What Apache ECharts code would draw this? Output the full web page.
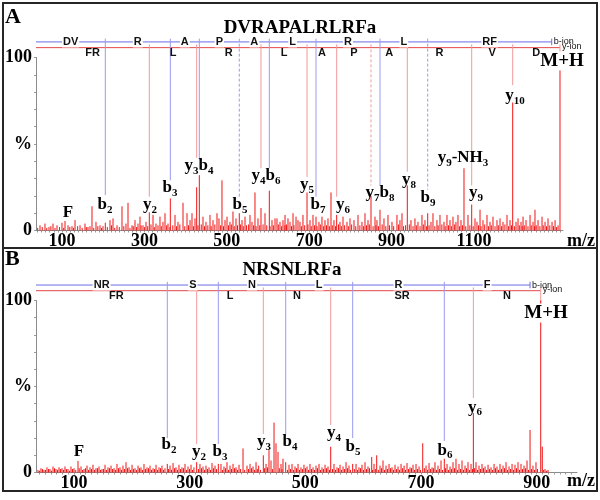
<!DOCTYPE html>
<html><head><meta charset="utf-8">
<script src="https://cdn.jsdelivr.net/npm/echarts@6/dist/echarts.min.js"></script>
<style>html,body{margin:0;padding:0;background:#fff}#c{width:600px;height:500px}</style>
</head><body><div id="c"></div>
<script>
// ---------------- Panel A : DVRAPALRLRFa ----------------
const titleA = 'DVRAPALRLRFa';
const xRangeA = [36.9, 1316];
const xTickLabelsA = [100, 300, 500, 700, 900, 1100];
const majorPeaksA = [[107.3,5.5],[172.8,14],[205.1,4.5],[245.6,14],[260.2,16],[311.9,10.5],[362.9,18.5],[393.7,16],[426.9,25],[433.3,32],[488.3,29],[515,11],[530.3,10],[568.4,22],[583,13],[603.2,23],[641.3,9],[660.7,10],[694.7,22],[716.5,8],[752.9,22],[766.7,9],[850,20],[871.8,12],[938.1,26],[987.6,10],[1075.7,36],[1094.4,15],[1114.6,12],[1193.9,74],[1248,12],[1308.7,100]];
const noiseA = [[46.6,3],[58.7,4],[68.4,2],[78.2,4],[87.9,3],[100,4.5],[114.6,3],[124.3,2.5],[131.6,6],[143.7,3],[155.8,4],[163.1,2],[182.5,5],[192.2,3],[199.5,2.5],[216.5,6],[223.8,7],[233.5,3],[255.3,4],[269.9,3],[277.2,6],[284.5,4],[289.3,8],[296.6,3],[303.9,5],[320.9,9],[328.1,4],[337.8,8],[345.1,5],[350,10],[357.3,4],[374.3,9],[381.5,5],[403.4,10],[410.7,6],[415.5,10],[422.8,7],[442.2,8],[449.5,5],[459.2,9],[466.5,6],[476.2,10],[481,7],[495.6,6],[500.5,8],[507.7,5],[522.3,7],[536.9,6],[544.2,8],[556.3,9],[561.1,5],[575.7,7],[592.7,10],[609.7,6],[617,7],[621.8,7],[629.1,5],[636.4,6],[648.5,7],[653.4,5],[668,8],[672.8,6],[677.6,5],[684.9,9],[701.9,6],[709.2,9],[723.7,5],[731,8],[738.3,6],[745.6,7],[760.1,6],[774.7,5],[782,8],[791.7,5],[799,7],[808.7,6],[818.4,9],[828.1,5],[835.4,10],[842.7,6],[859.7,8],[864.5,6],[881.5,7],[891.2,9],[900.9,5],[913,9],[920.3,6],[925.2,10],[947,6],[956.7,7],[964,5],[973.7,9],[981,6],[995.6,5],[1000.4,10],[1010.1,6],[1017.4,9],[1027.1,5],[1034.4,9],[1041.7,6],[1049,8],[1056.2,5],[1061.1,9],[1068.4,6],[1085.4,9],[1102.4,7],[1107.2,5],[1121.8,6],[1131.5,9],[1138.8,5],[1146.1,8],[1155.8,6],[1163.1,7],[1170.4,5],[1180.1,9],[1187.4,6],[1202,5],[1206.8,7],[1214.1,5],[1219,8],[1226.3,6],[1236,9],[1243.2,5],[1255.4,6],[1265.1,8],[1272.4,5],[1279.6,7],[1289.4,5],[1296.7,6],[1304,3]];
const floorA = [[41,1.5],[52,2],[63,1.5],[73,2.5],[83,1.5],[94,2],[104,1.5],[119,2],[128,1.5],[138,2.5],[149,1.5],[159,2],[168,2.5],[177,1.5],[187,2.5],[196,1.5],[210,2],[220,3],[228,1.5],[239,2],[250,2.5],[265,1.5],[273,2.5],[281,2],[292,3],[300,2],[308,2.5],[316,3.5],[324,2],[333,3],[341,2.5],[354,3],[362,2],[369,3],[378,2.5],[386,3.5],[398,2.5],[407,3],[419,2.5],[430,3],[438,3.5],[446,2.5],[454,3],[462,2.5],[471,3.5],[485,3],[492,2.5],[504,3],[511,3.5],[518,2.5],[526,3],[533,3.5],[540,2.5],[548,3],[553,3.5],[565,3],[571,2.5],[580,3],[588,3.5],[597,3],[605,2.5],[613,3],[625,3.5],[633,2.5],[641,3],[645,3.5],[657,2.5],[663,3],[681,2.5],[689,3],[697,3.5],[705,2.5],[713,3],[719,2.5],[727,3.5],[735,2.5],[742,3],[749,2.5],[756,3],[764,2.5],[771,3.5],[778,2.5],[786,3],[795,2.5],[803,3.5],[813,2.5],[823,3],[832,2.5],[839,3],[846,3.5],[855,2.5],[862,3],[868,2.5],[877,3.5],[886,2.5],[895,3],[905,2.5],[917,3.5],[929,2.5],[934,3],[943,3.5],[952,2.5],[960,3],[969,2.5],[977,3.5],[985,2.5],[991,3],[1005,2.5],[1013,3],[1022,3.5],[1030,2.5],[1038,3],[1045,2.5],[1053,3.5],[1065,2.5],[1072,3],[1080,2.5],[1090,3],[1098,2.5],[1111,3],[1117,2.5],[1126,3.5],[1135,2.5],[1142,3],[1151,2.5],[1159,3],[1167,2.5],[1175,3.5],[1184,2.5],[1191,3],[1198,2.5],[1210,3],[1217,2.5],[1222,3],[1231,2.5],[1239,3],[1247,2.5],[1251,3],[1260,2.5],[1268,3],[1276,2.5],[1284,3],[1293,2.5],[1300,2]];
const bIonsA = [205.1, 362.9, 433.3, 530.3, 603.2, 716.5, 871.8, 987.6];
const bGuideEndA = [20.5, 29, 41, 19.5, 36, 19.5, 26, 23.6];
const bDashA = [3, 7];
const bEndA = 1288.6;
const yIonsA = [311.9, 426.9, 583, 694.7, 766.7, 850, 938.1, 1094.4, 1193.9];
const yGuideEndA = [19.5, 42, 36, 31, 19.5, 26, 34, 26, 84];
const yDashA = [5];
const mhA = 1308.7;
const bResA = ['DV','R','A','P','A','L','R','L','RF'];
const yResA = ['FR','L','R','L','A','P','A','R','V','D'];
const annTextA = ['{m|F}','{m|b}{s|2}','{m|y}{s|2}','{m|b}{s|3}','{m|y}{s|3}{m|b}{s|4}','{m|b}{s|5}','{m|y}{s|4}{m|b}{s|6}','{m|y}{s|5}','{m|b}{s|7}','{m|y}{s|6}','{m|y}{s|7}{m|b}{s|8}','{m|y}{s|8}','{m|b}{s|9}','{m|y}{s|9}{m|-NH}{s|3}','{m|y}{s|9}','{m|y}{s|10}','{h|M+H}'];
const annMzA = [114.6, 204.4, 313.6, 362.1, 432.5, 532, 595, 694.6, 721.3, 782, 871.8, 942.2, 988.3, 1073.3, 1104.8, 1199.4, 1313.5];
const annYA = [10.1, 14.7, 14.7, 24.6, 37.3, 14.7, 31.5, 26.3, 14.7, 14.7, 21.7, 29.2, 18.8, 41.9, 21.7, 77.7, 98];

// ---------------- Panel B : NRSNLRFa ----------------
const titleB = 'NRSNLRFa';
const xRangeB = [34.3, 969.6];
const xTickLabelsB = [100, 300, 500, 700, 900];
const majorPeaksB = [[106.9,6.7],[261.3,5],[312.1,6],[349.5,5],[392.2,14],[427.3,10],[437.1,13],[445.8,29],[449.2,17],[452.7,12],[466,6],[543.8,15],[581.8,5],[614.7,9],[623.3,10],[702.9,17],[740.2,8],[790.4,34.6],[888.4,24.7],[906.9,100],[909.6,15]];
const noiseB = [[37.8,1.5],[42.9,2.5],[48.1,1.5],[53.3,3],[58.5,2],[63.7,3.5],[68.9,2],[74.1,3],[79.3,2.5],[84.4,3.5],[89.6,2],[94.8,3.5],[100,2.5],[112.1,3.5],[117.3,2],[122.5,4],[127.7,3],[132.8,4.5],[138,2.5],[143.2,3.5],[148.4,2],[153.6,4.5],[158.8,3],[164,4],[169.2,2.5],[174.3,5],[179.5,3],[184.7,4],[189.9,6],[195.1,3],[200.3,4.5],[205.5,2.5],[210.7,4],[215.8,3],[221,5],[226.2,3],[231.4,4],[236.6,2.5],[241.8,4.5],[247,3],[252.1,4],[257.3,2.5],[266,4],[271.2,5.5],[276.3,3],[281.5,4.5],[286.7,3],[291.9,5],[297.1,3.5],[302.3,4.5],[307.4,3],[317.8,5],[323,3.5],[328.2,4],[333.4,3],[338.6,5.5],[343.8,4],[354.1,5],[359.3,3.5],[364.5,6],[369.7,4],[374.9,5],[380.1,3],[385.3,4.5],[399.1,4],[404.3,5],[409.5,3.5],[414.7,6],[419.3,4],[432,5],[440.6,7],[457.9,5],[461.3,8],[471.7,4.5],[476.9,5],[482.1,3.5],[487.3,5],[492.4,3],[497.6,4.5],[502.8,3.5],[508,5],[513.2,3],[518.4,4],[523.6,5],[528.8,3],[534,4.5],[539.1,3.5],[549.5,5],[554.7,3],[559.9,4.5],[565.1,3.5],[570.3,6],[575.4,4],[587.6,5],[592.7,3],[597.9,4.5],[603.1,6],[608.3,3.5],[618.7,5],[629.1,4],[634.2,7],[639.4,4],[644.6,5],[649.8,3],[655,4.5],[660.2,3.5],[665.4,5],[670.6,4],[675.7,5.5],[680.9,3],[686.1,4.5],[691.3,5],[696.5,3.5],[708.6,4],[713.8,5.5],[719,3],[724.1,6],[729.3,4],[734.5,7],[744.9,5],[750.1,3.5],[755.2,6],[760.4,8],[765.6,5],[770.8,7],[776,4],[781.2,6],[786.4,5],[795,6],[800.2,4],[805.4,5],[810.6,3.5],[815.8,4.5],[821,3],[826.2,5],[831.3,3.5],[836.5,5],[841.7,4],[846.9,6],[852.1,3.5],[857.3,5],[862.4,4.5],[867.6,6],[872.8,5],[878,4],[883.2,7],[893.5,4],[898.7,6],[914.3,2],[919.5,1.5]];
const floorB = [[40.4,1],[45.5,2],[50.7,1.5],[55.9,2],[61.1,1],[66.3,2.5],[71.5,1.5],[76.7,2],[81.9,1.5],[87,2],[92.2,1],[97.4,2],[103,1.5],[109,2.5],[114.7,1.5],[119.9,2.5],[125.1,1.5],[130.3,2],[135.4,1.5],[140.6,2.5],[145.8,1.5],[151,2],[156.2,1.5],[161.4,2.5],[166.6,2],[171.8,1.5],[176.9,2.5],[182.1,1.5],[187.3,2],[192.5,2.5],[197.7,1.5],[202.9,2],[208.1,1.5],[213.3,2.5],[218.4,1.5],[223.6,2],[228.8,2.5],[234,1.5],[239.2,2],[244.4,1.5],[249.6,2.5],[254.7,1.5],[263.4,2],[268.6,1.5],[273.8,2.5],[278.9,1.5],[284.1,2],[289.3,2.5],[294.5,1.5],[299.7,2],[304.9,1.5],[315.2,2],[320.4,2.5],[325.6,1.5],[330.8,2],[336,1.5],[341.2,2.5],[346.4,2],[356.7,1.5],[361.9,2.5],[367.1,1.5],[372.3,2],[377.5,2.5],[382.7,1.5],[388,2],[395,1.5],[401.7,2],[406.9,2.5],[412.1,1.5],[417,2],[422.5,1.5],[429.5,2.5],[434.5,3],[443,2],[455,2.5],[459.5,2],[469,1.5],[474.3,2],[479.5,1.5],[484.7,2.5],[489.9,1.5],[495,2],[500.2,2.5],[505.4,1.5],[510.6,2],[515.8,1.5],[521,2.5],[526.2,1.5],[531.4,2],[536.5,2.5],[541.7,1.5],[546.9,2],[552.1,1.5],[557.3,2.5],[562.5,1.5],[567.7,2],[572.9,2.5],[578,1.5],[584.7,2],[590.2,1.5],[595.3,2.5],[600.5,1.5],[605.7,2],[610.9,2.5],[616,1.5],[621,2],[626.2,1.5],[631.7,2.5],[636.8,1.5],[642,2],[647.2,2.5],[652.4,1.5],[657.6,2],[662.8,1.5],[668,2.5],[673.1,1.5],[678.3,2],[683.5,2.5],[688.7,1.5],[693.9,2],[699.1,1.5],[705.7,2.5],[711.2,1.5],[716.4,2],[721.6,2.5],[726.7,1.5],[731.9,2],[737.1,1.5],[742.3,2.5],[747.5,1.5],[752.7,2],[757.8,2.5],[763,1.5],[768.2,2],[773.4,1.5],[778.6,2.5],[783.8,1.5],[788.9,2],[792.6,2.5],[797.6,1.5],[802.8,2],[808,2.5],[813.2,1.5],[818.4,2],[823.6,1.5],[828.7,2.5],[833.9,1.5],[839.1,2],[844.3,2.5],[849.5,1.5],[854.7,2],[859.9,1.5],[865,2.5],[870.2,1.5],[875.4,2],[880.6,2.5],[885.8,1.5],[891,2],[896.1,1.5],[901.3,2],[911.9,1.5],[917,1]];
const bIonsB = [261.3, 349.5, 466, 581.8, 740.2];
const bGuideEndB = [20, 16.6, 22.4, 20, 18.3];
const bDashB = [];
const bEndB = 888.4;
const yIonsB = [312.1, 427.3, 543.8, 790.4];
const yGuideEndB = [16.6, 22.4, 27.6, 43.3];
const yDashB = [];
const mhB = 906.9;
const bResB = ['NR','S','N','L','R','F'];
const yResB = ['FR','L','N','SR','N'];
const annTextB = ['{m|F}','{m|b}{s|2}','{m|y}{s|2}','{m|b}{s|3}','{m|y}{s|3}','{m|b}{s|4}','{m|y}{s|4}','{m|b}{s|5}','{m|b}{s|6}','{m|y}{s|6}','{h|M+H}'];
const annMzB = [108.6, 264.2, 316.1, 352.4, 428.5, 473.4, 549.5, 582.4, 741.4, 793.3, 916];
const annYB = [11.9, 16, 11.9, 11.9, 17.7, 17.7, 23, 14.8, 13, 38, 92.7];

// ---------------- styling ----------------
const SERIF = '"Liberation Serif", "Times New Roman", serif';
const SANS = '"Liberation Sans", Arial, sans-serif';
const PEAK = '#f01414';
const segColors = ['#6c6ce6', '#e44848', '#9a9af0', '#f29a9a', '#9a9af0', '#f29a9a'];
const bLevel = 109, yLevel = 105.7;

function buildPanel(gi, P) {
  const segs = [];
  segs.push([P.xr[0], bLevel, P.bEnd, bLevel, 0]);
  segs.push([P.xr[0], yLevel, P.mh, yLevel, 1]);
  P.bIons.forEach((m, i) => segs.push([m, bLevel + 1.9, m, P.bGuide[i], P.bDash.includes(i) ? 4 : 2]));
  segs.push([P.bEnd, bLevel + 1.9, P.bEnd, bLevel - 1.9, 0]);
  P.yIons.forEach((m, i) => segs.push([m, yLevel + 1.9, m, P.yGuide[i], P.yDash.includes(i) ? 5 : 3]));
  segs.push([P.mh, yLevel + 1.9, P.mh, 97, 3]);

  const peaks = P.floor.concat(P.noise, P.major);

  const texts = [];
  const bBounds = [P.xr[0]].concat(P.bIons, [P.bEnd]);
  P.bRes.forEach((r, i) => texts.push({x: (bBounds[i] + bBounds[i + 1]) / 2, y: bLevel, text: r, kind: 'b'}));
  const yBounds = [P.xr[0]].concat(P.yIons, [P.mh]);
  P.yRes.forEach((r, i) => texts.push({x: (yBounds[i] + yBounds[i + 1]) / 2, y: yLevel, text: r, kind: 'y'}));
  texts.push({x: P.bEnd, y: bLevel, text: 'b-ion', kind: 'bion'});
  texts.push({x: P.mh, y: yLevel, text: 'y-ion', kind: 'yion'});
  P.annText.forEach((t, i) => texts.push({x: P.annMz[i], y: P.annY[i], text: t, kind: 'ann'}));

  const richStyle = {
    m: {fontFamily: SERIF, fontWeight: 'bold', fontSize: 17, lineHeight: 22, verticalAlign: 'middle', fill: '#000', color: '#000'},
    s: {fontFamily: SERIF, fontWeight: 'bold', fontSize: 11, lineHeight: 22, verticalAlign: 'bottom', fill: '#000', color: '#000'},
    h: {fontFamily: SERIF, fontWeight: 'bold', fontSize: 19, lineHeight: 20, verticalAlign: 'middle', fill: '#000', color: '#000', backgroundColor: '#fff'}
  };

  return [
    {
      type: 'custom', xAxisIndex: gi, yAxisIndex: gi, clip: false, silent: true, z: 2,
      data: segs,
      renderItem: (params, api) => {
        const a = api.coord([api.value(0), api.value(1)]);
        const b = api.coord([api.value(2), api.value(3)]);
        const k = api.value(4);
        return {type: 'line', shape: {x1: a[0], y1: a[1], x2: b[0], y2: b[1]},
          style: {stroke: segColors[k], lineWidth: 1, lineDash: (k >= 4 ? [3, 2] : null)}};
      }
    },
    {
      type: 'custom', xAxisIndex: gi, yAxisIndex: gi, clip: false, silent: true, z: 3,
      data: peaks,
      renderItem: (params, api) => {
        const a = api.coord([api.value(0), 0]);
        const b = api.coord([api.value(0), api.value(1)]);
        return {type: 'line', shape: {x1: a[0], y1: a[1], x2: b[0], y2: b[1]},
          style: {stroke: PEAK, lineWidth: 1}};
      }
    },
    {
      type: 'custom', xAxisIndex: gi, yAxisIndex: gi, clip: false, silent: true, z: 5,
      data: texts.map(t => [t.x, t.y]),
      renderItem: (params, api) => {
        const t = texts[params.dataIndex];
        const p = api.coord([t.x, t.y]);
        let style, x = p[0], y = p[1];
        if (t.kind === 'b') {
          style = {text: t.text, font: 'bold 11px ' + SANS, fill: '#111', align: 'center', verticalAlign: 'middle',
            textAlign: 'center', textVerticalAlign: 'middle', backgroundColor: '#fff', padding: [0, 1, 0, 1]};
        } else if (t.kind === 'y') {
          style = {text: t.text, font: 'bold 11px ' + SANS, fill: '#111', align: 'center', verticalAlign: 'top',
            textAlign: 'center', textVerticalAlign: 'top'};
          y -= 0.5;
        } else if (t.kind === 'bion' || t.kind === 'yion') {
          style = {text: t.text, font: '9px ' + SANS, fill: '#111', align: 'left', verticalAlign: 'middle',
            textAlign: 'left', textVerticalAlign: 'middle'};
          x += 2; if (t.kind === 'yion') y -= 1.5;
        } else {
          style = {text: t.text, rich: richStyle, fill: '#000', align: 'center', verticalAlign: 'middle',
            textAlign: 'center', textVerticalAlign: 'middle'};
        }
        style.x = x; style.y = y;
        return {type: 'text', x: 0, y: 0, style: style};
      }
    }
  ];
}

function xAxisFor(gi, xr, labels) {
  const ticks = [];
  for (let v = Math.ceil(xr[0] / 10) * 10; v <= xr[1]; v += 10) ticks.push(v);
  return {
    type: 'value', gridIndex: gi, min: xr[0], max: xr[1],
    axisLine: {show: true, lineStyle: {color: '#8c8c8c', width: 1}},
    axisTick: {show: true, customValues: ticks, length: 2, lineStyle: {color: '#9a9a9a', width: 1}},
    axisLabel: {show: true, customValues: labels, formatter: v => String(v),
      fontFamily: SERIF, fontWeight: 'bold', fontSize: 18, color: '#000', margin: 2},
    splitLine: {show: false}
  };
}
function yAxisFor(gi) {
  return {
    type: 'value', gridIndex: gi, min: 0, max: 100,
    axisLine: {show: true, lineStyle: {color: '#8c8c8c', width: 1}},
    axisTick: {show: true, customValues: [0,10,20,30,40,50,60,70,80,90,100], length: 2, lineStyle: {color: '#9a9a9a'}},
    axisLabel: {show: true, customValues: [0, 50, 100], formatter: v => (v === 50 ? '%' : String(v)),
      fontFamily: SERIF, fontWeight: 'bold', fontSize: 18, color: '#000', margin: 4},
    splitLine: {show: false}
  };
}

const panelA = {xr: xRangeA, major: majorPeaksA, noise: noiseA, floor: floorA, bIons: bIonsA, bGuide: bGuideEndA, bDash: bDashA, bEnd: bEndA,
  yIons: yIonsA, yGuide: yGuideEndA, yDash: yDashA, mh: mhA, bRes: bResA, yRes: yResA, annText: annTextA, annMz: annMzA, annY: annYA};
const panelB = {xr: xRangeB, major: majorPeaksB, noise: noiseB, floor: floorB, bIons: bIonsB, bGuide: bGuideEndB, bDash: bDashB, bEnd: bEndB,
  yIons: yIonsB, yGuide: yGuideEndB, yDash: yDashB, mh: mhB, bRes: bResB, yRes: yResB, annText: annTextB, annMz: annMzB, annY: annYB};

const txt = (x, y, text, font, align) => ({type: 'text', x: x, y: y, z: 10, silent: true,
  style: {text: text, font: font, fill: '#000', align: align || 'center', verticalAlign: 'middle', textAlign: align || 'center', textVerticalAlign: 'middle'}});

const option = {
  animation: false,
  backgroundColor: '#fff',
  grid: [
    {left: 36, top: 57.5, width: 527, height: 173},
    {left: 36, top: 300.5, width: 541, height: 172}
  ],
  xAxis: [xAxisFor(0, xRangeA, xTickLabelsA), xAxisFor(1, xRangeB, xTickLabelsB)],
  yAxis: [yAxisFor(0), yAxisFor(1)],
  series: buildPanel(0, panelA).concat(buildPanel(1, panelB)),
  graphic: [
    {type: 'rect', shape: {x: 3, y: 3, width: 594, height: 245}, style: {fill: 'none', stroke: '#262626', lineWidth: 2}, silent: true},
    {type: 'rect', shape: {x: 3, y: 248, width: 594, height: 243}, style: {fill: 'none', stroke: '#262626', lineWidth: 2}, silent: true},
    txt(5, 17, 'A', 'bold 22px ' + SERIF, 'left'),
    txt(5, 259, 'B', 'bold 22px ' + SERIF, 'left'),
    txt(300, 28, titleA, 'bold 19px ' + SERIF),
    txt(292, 270, titleB, 'bold 19px ' + SERIF),
    txt(581, 241, 'm/z', 'bold 18px ' + SERIF),
    txt(581, 481, 'm/z', 'bold 18px ' + SERIF)
  ]
};

const chart = echarts.init(document.getElementById('c'), null, {renderer: 'canvas'});
chart.setOption(option);
</script>
</body></html>
